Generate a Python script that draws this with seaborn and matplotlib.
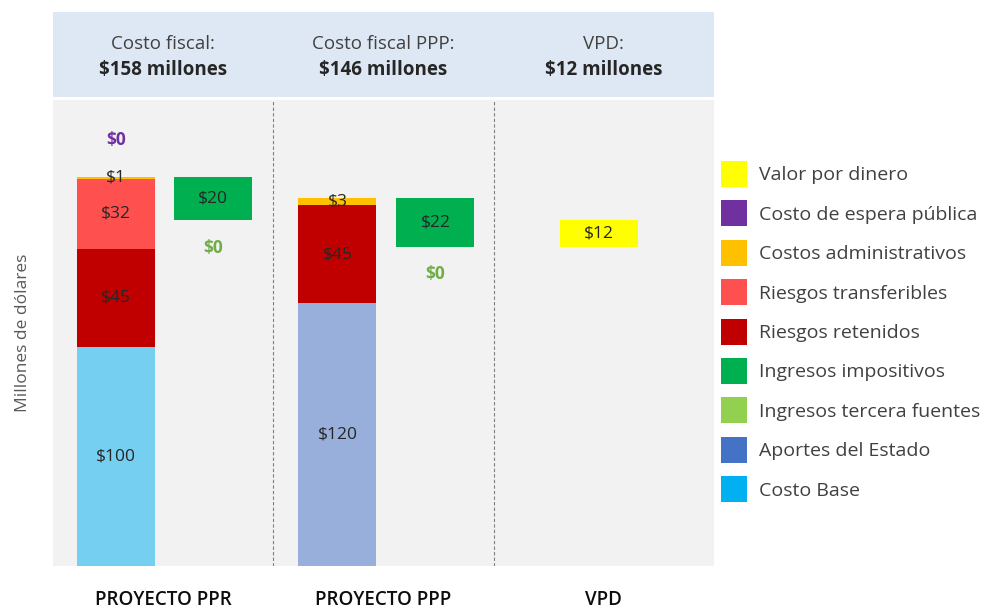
import matplotlib
matplotlib.use("Agg")
import matplotlib.pyplot as pyplot
from matplotlib.patches import Patch
import seaborn

# style
seaborn.set_style("white")
pyplot.rcParams["font.family"] = ["Open Sans", "DejaVu Sans"]

# data
categories = ["PROYECTO PPR", "PROYECTO PPP", "VPD"]
header_titles = ["Costo fiscal:", "Costo fiscal PPP:", "VPD:"]

legend_labels = [
    "Valor por dinero",
    "Costo de espera pública",
    "Costos administrativos",
    "Riesgos transferibles",
    "Riesgos retenidos",
    "Ingresos impositivos",
    "Ingresos tercera fuentes",
    "Aportes del Estado",
    "Costo Base",
]
legend_colors = [
    "#FFFF00",
    "#7030A0",
    "#FFC000",
    "#FF5050",
    "#C00000",
    "#00B050",
    "#92D050",
    "#4472C4",
    "#00B0F0",
]
color_of = dict(zip(legend_labels, legend_colors))

# stacked costs, bottom to top
ppr_segments = ["Costo Base", "Riesgos retenidos", "Riesgos transferibles",
                "Costos administrativos", "Costo de espera pública"]
ppr_values = [100, 45, 32, 1, 0]
ppp_segments = ["Aportes del Estado", "Riesgos retenidos", "Costos administrativos"]
ppp_values = [120, 45, 3]

# income deducted from each project
ppr_income = [20, 0]  # impositivos, tercera fuentes
ppp_income = [22, 0]

ppr_fiscal = sum(ppr_values) - sum(ppr_income)
ppp_fiscal = sum(ppp_values) - sum(ppp_income)
vpd_value = ppr_fiscal - ppp_fiscal
header_values = [ppr_fiscal, ppp_fiscal, vpd_value]

# layout
bar_width = 0.354
x_ppr, x_ppr_inc = 0.286, 0.726
x_ppp, x_ppp_inc = 1.291, 1.736
x_vpd = 2.476

fig = pyplot.figure(figsize=(9.83, 6.11), dpi=100)
ax = fig.add_axes([53 / 983, 45 / 611, 661 / 983, 466 / 611])
hax = fig.add_axes([53 / 983, 514 / 611, 661 / 983, 85 / 611])

ax.set_facecolor("#F2F2F2")
hax.set_facecolor("#DDE8F4")


def label_segment(x, bottom, h, text):
    ax.text(x, bottom + h / 2, text, ha="center", va="center",
            fontsize=12.5, color="#262626")


def stack(x, names, values):
    bottom = 0
    for i, (name, v) in enumerate(zip(names, values)):
        alpha = 0.52 if i == 0 else 1.0
        if v > 0:
            ax.bar(x, v, bar_width, bottom=bottom, color=color_of[name],
                   alpha=alpha, edgecolor="none", linewidth=0)
            label_segment(x, bottom, v, f"${v}")
        else:
            ax.annotate(f"${v}", (x, bottom), xytext=(0, 26),
                        textcoords="offset points", ha="center", va="center",
                        fontsize=12.5, fontweight="bold", color=color_of[name])
        bottom += v
    return bottom


ppr_top = stack(x_ppr, ppr_segments, ppr_values)
ppp_top = stack(x_ppp, ppp_segments, ppp_values)


def income(x, top, values):
    tax, third = values
    ax.bar(x, -tax, bar_width, bottom=top, color=color_of["Ingresos impositivos"],
           edgecolor="none")
    label_segment(x, top - tax, tax, f"${tax}")
    ax.annotate(f"${third}", (x, top - tax), xytext=(0, -20),
                textcoords="offset points", ha="center", va="center",
                fontsize=12.5, fontweight="bold", color="#70AD47")


income(x_ppr_inc, ppr_top, ppr_income)
income(x_ppp_inc, ppp_top, ppp_income)

ax.bar(x_vpd, vpd_value, bar_width, bottom=ppp_fiscal,
       color=color_of["Valor por dinero"], edgecolor="none")
label_segment(x_vpd, ppp_fiscal, vpd_value, f"${vpd_value}")

for xv in [1, 2]:
    ax.axvline(xv, color="#7F7F7F", linestyle=(0, (3, 2)), linewidth=0.8)

ax.set_xlim(0, 3)
ax.set_ylim(0, 213)
ax.set_xticks([0.5, 1.5, 2.5])
ax.set_xticklabels(categories, fontsize=13.5, fontweight="semibold", color="#0D0D0D")
ax.tick_params(axis="x", length=0, pad=17)
ax.set_yticks([])
ax.set_ylabel("Millones de dólares", fontsize=12.5, color="#595959")
ax.yaxis.set_label_coords(-0.034, 0.5)
seaborn.despine(ax=ax, left=True, bottom=True)

# header band
hax.set_xlim(0, 3)
hax.set_ylim(0, 1)
hax.set_xticks([])
hax.set_yticks([])
seaborn.despine(ax=hax, left=True, bottom=True)
for i, (title, val) in enumerate(zip(header_titles, header_values)):
    hax.text(i + 0.5, 0.62, title, ha="center", va="center",
             fontsize=13.5, color="#404040")
    hax.text(i + 0.5, 0.32, f"${val} millones", ha="center", va="center",
             fontsize=13.5, fontweight="bold", color="#262626")

# legend
handles = [Patch(facecolor=c, edgecolor="none") for c in legend_colors]
fig.legend(handles, legend_labels, loc="upper left",
           bbox_to_anchor=(721 / 983, 1 - 161 / 611), frameon=False,
           fontsize=14, labelcolor="#404040", handlelength=1.34,
           handleheight=1.68, handletextpad=0.6, labelspacing=0.69,
           borderpad=0, borderaxespad=0)

fig.savefig("out.png", dpi=100)
